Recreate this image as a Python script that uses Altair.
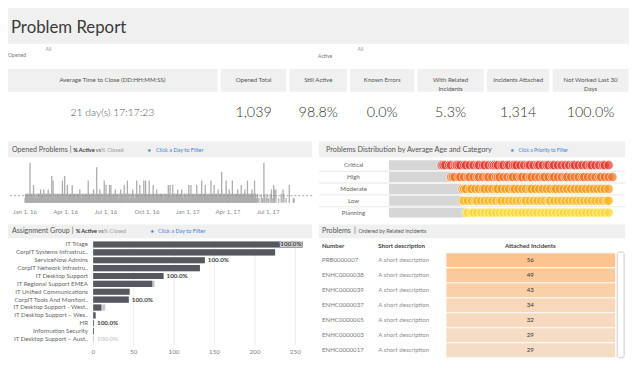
import altair as alt
import pandas as pd

# ------------------------------------------------------------------ data
TITLE = "Problem Report"
KPI_LABELS = ["Average Time to Close (DD:HH:MM:SS)", "Opened Total", "Still Active",
              "Known Errors", "With Related\nIncidents", "Incidents Attached",
              "Not Worked Last 30\nDays"]
KPI_VALUES = ["21 day(s) 17:17:23", "1,039", "98.8%", "0.0%", "5.3%", "1,314", "100.0%"]

OPENED_START = "2016-01-01"
OPENED_DAILY = [
    "1221212122", "2912122124", "2121021212", "1221230212", "2131221202",
    "1232122121", "6215221021", "2122121212", "1220512126", "2120242121",
    "2121204212", "1221202122", "2123121021", "2122112212", "1252121022",
    "1212320121", "2812121232", "1202121252", "2140212122", "4124212012",
    "2123121220", "1212232121", "2124121202", "5212102121", "2132121012",
    "2512122142", "1202122512", "2512120215", "2121201242", "1212213021",
    "2121221212", "2102121221", "2142124121", "2141221202", "2123021212",
    "1232121021", "2121202142", "1214212012", "2121214212", "2021212512",
    "1212242120", "2102121252", "1212142121", "2120312122", "2172121202",
    "1252121213", "2121025212", "1212021232", "2121214212", "1202321212",
    "5212120212", "3212125212", "1002001000", "0200100902", "0010200100",
    "0200300104", "0300300000", "1000002000", "3020000100", "0000400000",
    "00010100",
]
DATE_TICKS = ["2016-01-01", "2016-04-01", "2016-07-01", "2016-10-01",
              "2017-01-01", "2017-04-01", "2017-07-01"]
DATE_TICK_LABELS = ["Jan 1, 16", "Apr 1, 16", "Jul 1, 16", "Oct 1, 16",
                    "Jan 1, 17", "Apr 1, 17", "Jul 1, 17"]

PRIORITIES = ["Critical", "High", "Moderate", "Low", "Planning"]
PRIORITY_COLORS = ["#e2392c", "#ef6d1e", "#f59715", "#f7b51a", "#fad52c"]
PRIORITY_MIN_AGE = [28, 33, 39, 39, 41]
AGES_CRITICAL = [28, 29, 30, 32, 33, 35, 36, 36, 37, 38, 40, 41, 43, 45, 47, 48, 50, 51,
                 53, 55, 56, 57, 58, 60, 61, 63, 64, 66, 67, 68, 70, 72, 74, 75, 77, 79,
                 80, 82, 84, 85, 87, 88, 90, 92, 94, 96, 98, 99, 101, 103, 105, 107, 108,
                 110, 112, 114, 115, 117]
AGES_HIGH = [33, 34, 35, 37, 38, 40, 42, 43, 45, 47, 48, 50, 52, 53, 55, 57, 58, 59, 61,
             63, 65, 66, 68, 70, 71, 73, 75, 76, 78, 80, 82, 83, 85, 87, 88, 90, 92, 94,
             95, 97, 99, 101, 103, 104, 106, 108, 110, 112, 113, 115, 117, 119]
AGES_MODERATE = [39, 40, 41, 43, 44, 46, 48, 50, 51, 53, 55, 57, 58, 60, 62, 64, 66, 67,
                 69, 71, 73, 75, 76, 78, 80, 82, 84, 86, 88, 89, 91, 93, 95, 97, 99, 101,
                 103, 105, 107, 109, 111, 113, 115, 117]
AGES_LOW = [39, 40, 42, 44, 46, 47, 49, 51, 53, 55, 57, 59, 60, 62, 64, 66, 68, 70, 72,
            73, 75, 77, 79, 81, 83, 85, 86, 88, 90, 92, 94, 96, 98, 100, 102, 104, 106,
            108, 110, 112, 114, 116, 117]
AGES_PLANNING = [41, 42, 44, 45, 47, 49, 51, 53, 55, 57, 59, 61, 63, 65, 67, 69, 71, 73,
                 75, 77, 79, 81, 83, 85, 87, 89, 91, 93, 95, 97, 99, 101, 103, 105, 107,
                 109, 111, 113, 115, 117]

GROUPS = ["IT Triage", "CorpIT Systems Infrastruc..", "ServiceNow Admins",
          "CorpIT Network Infrastru..", "IT Desktop Support", "IT Regional Support EMEA",
          "IT Unified Communications", "CorpIT Tools And Monitori..",
          "IT Desktop Support - West..", "IT Desktop Support \u2013 Wes..", "HR",
          "Information Security", "IT Desktop Support \u2013 Aust.."]
GROUP_ACTIVE = [259, 225, 138, 132, 87, 73, 45, 44, 10, 3, 1, 1, 0]
GROUP_TOTAL = [259, 225, 138, 132, 87, 76, 45, 44, 15, 3, 1, 1, 1]
GROUP_PCT_LABEL = ["100.0%", "", "100.0%", "", "100.0%", "", "", "100.0%", "", "",
                   "100.0%", "", "100.0%"]
GROUP_TICKS = [0, 50, 100, 150, 200, 250]

PROBLEM_NUMBERS = ["PRB0000007", "ENHC0000038", "ENHC0000039", "ENHC0000037",
                   "ENHC0000005", "ENHC0000003", "ENHC0000017"]
PROBLEM_DESC = ["A short description"] * 7
PROBLEM_INCIDENTS = [56, 49, 43, 34, 32, 29, 29]

# ------------------------------------------------------------------ layout helpers
OFF = 8                      # page margin: reference pixel -> chart pixel
W, H = 632, 352
FONT = "Lato"
BLUE = "#3f7fd8"
HDR = "#f0f0f0"
LIGHT = 300
ONE = pd.DataFrame({"k": [0]})


def P(v):
    return v - OFF


def txt(s, x, y, size=7.0, color="#555555", align="left", weight="normal",
        baseline="middle"):
    return alt.Chart(ONE).mark_text(
        text=s, align=align, baseline=baseline, fontSize=size, color=color,
        fontWeight=weight, font=FONT
    ).encode(x=alt.value(P(x)), y=alt.value(P(y)))


def box(x0, y0, x1, y1, fill, **kw):
    return alt.Chart(ONE).mark_rect(fill=fill, **kw).encode(
        x=alt.value(P(x0)), x2=alt.value(P(x1)),
        y=alt.value(P(y0)), y2=alt.value(P(y1)))


# ------------------------------------------------------------------ decorations
deco = [
    box(3, 3, 637, 42, HDR),
    txt(TITLE, 11, 31, 17, "#3a3a3a", baseline="alphabetic"),
    txt("Opened", 8, 53, 5.2, "#777777"),
    txt("All", 46, 47, 5.2, "#999999"),
    txt("Active", 322, 54, 5.2, "#777777"),
    txt("All", 362, 47, 5.2, "#999999"),
    box(6, 141, 316, 157, HDR), box(323, 141, 633, 157, HDR),
    box(6, 225, 316, 239, HDR), box(323, 225, 633, 239, HDR),
    txt("Opened Problems", 12, 150, 7.2, "#555555"),
    txt("|", 70.5, 150, 7.2, "#555555"),
    txt("% Active", 74, 150, 5.6, "#333333", weight="bold"),
    txt("vs", 97, 150, 5.6, "#555555"),
    txt("% Closed", 102.5, 150, 5.6, "#9a9a9a"),
    txt("\u2605", 149, 150, 5.5, BLUE),
    txt("Click a Day to Filter", 158, 150, 5.6, BLUE),
    txt("Problems Distribution by Average Age and Category", 330, 150, 7.4, "#555555"),
    txt("\u2605", 516, 150, 5.2, BLUE),
    txt("Click a Priority to Filter", 525, 150, 5.0, BLUE),
    txt("Assignment Group", 12, 232, 7.2, "#555555"),
    txt("|", 72.5, 232, 7.2, "#555555"),
    txt("% Active", 76.5, 232, 5.6, "#333333", weight="bold"),
    txt("vs", 99.5, 232, 5.6, "#555555"),
    txt("% Closed", 105, 232, 5.6, "#9a9a9a"),
    txt("\u2605", 152, 232, 5.5, BLUE),
    txt("Click a Day to Filter", 160, 232, 5.6, BLUE),
    txt("Problems", 326, 232, 7.2, "#555555"),
    txt("|", 358.5, 232, 7.2, "#555555"),
    txt("Ordered by Related Incidents", 363, 232, 5.4, "#555555"),
    txt("Number", 326, 247, 6.2, "#444444", weight="bold"),
    txt("Short description", 383, 247, 6.2, "#444444", weight="bold"),
    txt("Attached Incidents", 537, 247, 6.2, "#444444", align="center", weight="bold"),
    box(625, 253, 632, 360, "white", stroke="#c8c8c8", strokeWidth=1, cornerRadius=2),
]

# ------------------------------------------------------------------ KPI tiles
kpi = pd.DataFrame({"label": KPI_LABELS, "value": KPI_VALUES})
kpi["i0"] = range(len(kpi))
kpi["i1"] = kpi["i0"] + 1
kpi["mid"] = kpi["i0"] + 0.5
KPI_EDGES = [5.5, 222, 291.5, 353, 421, 491.5, 558, 638]
kx = alt.Scale(domain=list(range(len(KPI_EDGES))), range=[P(e) for e in KPI_EDGES],
               nice=False, zero=False)
kpi_layer = alt.layer(
    alt.Chart(kpi).mark_rect(fill=HDR, stroke="white", strokeWidth=3).encode(
        x=alt.X("i0:Q", scale=kx, axis=None), x2="i1:Q",
        y=alt.value(P(66)), y2=alt.value(P(92))),
    alt.Chart(kpi).mark_text(fontSize=6.2, color="#555555", font=FONT, lineBreak="\n",
                             lineHeight=9).encode(
        x=alt.X("mid:Q", scale=kx, axis=None), y=alt.value(P(79)), text="label:N"),
    alt.Chart(kpi).transform_filter("datum.i0 == 0").mark_text(
        fontSize=10.5, color="#555555", font=FONT, fontWeight=LIGHT).encode(
        x=alt.X("mid:Q", scale=kx, axis=None), y=alt.value(P(112)), text="value:N"),
    alt.Chart(kpi).transform_filter("datum.i0 > 0").mark_text(
        fontSize=14.5, color="#333333", font=FONT, fontWeight=LIGHT).encode(
        x=alt.X("mid:Q", scale=kx, axis=None), y=alt.value(P(112)), text="value:N"),
)

# ------------------------------------------------------------------ opened problems
counts = [int(c) for c in "".join(OPENED_DAILY)]
op = pd.DataFrame({"day": range(len(counts)), "opened": counts})
start = pd.Timestamp(OPENED_START)
ticks = pd.DataFrame({"day": [(pd.Timestamp(d) - start).days for d in DATE_TICKS],
                      "label": DATE_TICK_LABELS})
ox = alt.Scale(domain=[0, 547], range=[P(20.3), P(276.7)], nice=False, zero=False)
oy = alt.Scale(domain=[0, 9], range=[P(203), P(162.5)], nice=False, zero=False)
opened_layer = alt.layer(
    alt.Chart(op).transform_filter("datum.opened > 0").mark_bar(
        color="#adadad", width=1.3).encode(
        x=alt.X("day:Q", scale=ox, axis=None),
        y=alt.Y("opened:Q", scale=oy, axis=None)),
    alt.Chart(op).mark_rule(color="#8a8a8a", strokeDash=[2, 2], strokeWidth=0.8).encode(
        y=alt.Y("mean(opened):Q", scale=oy, axis=None),
        x=alt.value(P(6)), x2=alt.value(P(316))),
    alt.Chart(ticks).mark_text(fontSize=6.2, color="#8a8a8a", font=FONT).encode(
        x=alt.X("day:Q", scale=ox, axis=None), y=alt.value(P(212)), text="label:N"),
)

# ------------------------------------------------------------------ distribution
rows = []
for p, ages in zip(PRIORITIES, [AGES_CRITICAL, AGES_HIGH, AGES_MODERATE, AGES_LOW,
                                AGES_PLANNING]):
    for a in ages:
        rows.append({"priority": p, "age": a})
pts = pd.DataFrame(rows)
prio = pd.DataFrame({"priority": PRIORITIES, "min_age": PRIORITY_MIN_AGE})
dxs = alt.Scale(domain=[0, 120], range=[P(394), P(622)], nice=False, zero=False)
dys = alt.Scale(type="band", domain=PRIORITIES, range=[P(159), P(219)],
                paddingInner=0.16, paddingOuter=0.08)
dist_layer = alt.layer(
    alt.Chart(prio).transform_filter("datum.priority != 'Planning'").mark_rule(
        color="#e2e2e2", strokeWidth=0.8, yOffset=1).encode(
        y=alt.Y("priority:N", scale=dys, axis=None, bandPosition=1),
        x=alt.value(P(323)), x2=alt.value(P(633))),
    alt.Chart(prio).mark_bar(color="#d6d6d6").encode(
        x=alt.X("min_age:Q", scale=dxs, axis=None),
        y=alt.Y("priority:N", scale=dys, axis=None)),
    alt.Chart(pts).mark_circle(size=88, fillOpacity=0.7, stroke="white",
                               strokeWidth=0.7, strokeOpacity=0.85).encode(
        x=alt.X("age:Q", scale=dxs, axis=None),
        y=alt.Y("priority:N", scale=dys, axis=None),
        color=alt.Color("priority:N", scale=alt.Scale(domain=PRIORITIES,
                                                      range=PRIORITY_COLORS),
                        legend=None)),
    alt.Chart(prio).mark_text(fontSize=6.3, color="#666666", font=FONT).encode(
        y=alt.Y("priority:N", scale=dys, axis=None), x=alt.value(P(358)),
        text="priority:N"),
)

# ------------------------------------------------------------------ assignment group
ag = pd.DataFrame({"group": GROUPS, "active": GROUP_ACTIVE, "total": GROUP_TOTAL,
                   "pct": GROUP_PCT_LABEL})
axs = alt.Scale(domain=[0, 250], range=[P(94.3), P(299)], nice=False, zero=False)
ays = alt.Scale(type="band", domain=GROUPS, range=[P(241.3), P(345)],
                paddingInner=0.22, paddingOuter=0.11)
gticks = pd.DataFrame({"tick": GROUP_TICKS})
pct_color = alt.condition("datum.active == 0", alt.value("#cfcfcf"), alt.value("#444444"))
inside = "datum.pct != '' && datum.total > 240"
assign_layer = alt.layer(
    alt.Chart(gticks).mark_rule(color="#e8e8e8", strokeWidth=0.8).encode(
        x=alt.X("tick:Q", scale=axs, axis=None),
        y=alt.value(P(241)), y2=alt.value(P(347))),
    alt.Chart(ag).mark_bar(color="#c9c9c9").encode(
        x=alt.X("total:Q", scale=axs, axis=None),
        y=alt.Y("group:N", scale=ays, axis=None)),
    alt.Chart(ag).mark_bar(color="#55595f").encode(
        x=alt.X("active:Q", scale=axs, axis=None),
        y=alt.Y("group:N", scale=ays, axis=None)),
    alt.Chart(ag).mark_text(align="right", fontSize=6.2, color="#666666",
                            font=FONT).encode(
        x=alt.value(P(89)), y=alt.Y("group:N", scale=ays, axis=None), text="group:N"),
    alt.Chart(ag).transform_filter("datum.pct != '' && datum.total <= 240").mark_text(
        align="left", dx=3, fontSize=6.4, fontWeight="bold", font=FONT).encode(
        x=alt.X("total:Q", scale=axs, axis=None),
        y=alt.Y("group:N", scale=ays, axis=None), text="pct:N", color=pct_color),
    alt.Chart(ag).transform_filter(inside).mark_text(
        align="right", dx=-1, fontSize=6.4, fontWeight="bold", font=FONT,
        color="#d9d9d9", stroke="#d9d9d9", strokeWidth=2).encode(
        x=alt.X("total:Q", scale=axs, axis=None),
        y=alt.Y("group:N", scale=ays, axis=None), text="pct:N"),
    alt.Chart(ag).transform_filter(inside).mark_text(
        align="right", dx=-1, fontSize=6.4, fontWeight="bold", font=FONT,
        color="#3a3a3a").encode(
        x=alt.X("total:Q", scale=axs, axis=None),
        y=alt.Y("group:N", scale=ays, axis=None), text="pct:N"),
    alt.Chart(gticks).mark_text(fontSize=6.4, color="#808080", font=FONT).encode(
        x=alt.X("tick:Q", scale=axs, axis=None), y=alt.value(P(354)), text="tick:Q"),
)

# ------------------------------------------------------------------ problems table
tb = pd.DataFrame({"number": PROBLEM_NUMBERS, "desc": PROBLEM_DESC,
                   "inc": PROBLEM_INCIDENTS})
tys = alt.Scale(type="band", domain=PROBLEM_NUMBERS, range=[P(253.5), P(360)],
                paddingInner=0.07, paddingOuter=0.035)
table_layer = alt.layer(
    alt.Chart(tb).mark_rect().encode(
        y=alt.Y("number:N", scale=tys, axis=None),
        x=alt.value(P(452)), x2=alt.value(P(623)),
        color=alt.Color("inc:Q", scale=alt.Scale(domain=[29, 56],
                                                 range=["#f5dcc5", "#fdc48e"]),
                        legend=None)),
    alt.Chart(tb).mark_text(align="left", fontSize=6.2, color="#7a7a7a",
                            font=FONT).encode(
        y=alt.Y("number:N", scale=tys, axis=None), x=alt.value(P(326)),
        text="number:N"),
    alt.Chart(tb).mark_text(align="left", fontSize=6.2, color="#8e8e8e",
                            font=FONT).encode(
        y=alt.Y("number:N", scale=tys, axis=None), x=alt.value(P(383)),
        text="desc:N"),
    alt.Chart(tb).mark_text(align="center", fontSize=6.2, color="#333333",
                            font=FONT).encode(
        y=alt.Y("number:N", scale=tys, axis=None), x=alt.value(P(537)),
        text="inc:Q"),
)

chart = alt.layer(
    *deco, kpi_layer, opened_layer, dist_layer, assign_layer, table_layer
).resolve_scale(
    x="independent", y="independent", color="independent"
).properties(
    width=W, height=H, padding=0, background="white",
    autosize=alt.AutoSizeParams(type="none"),
).configure_view(stroke=None)

chart.save("out.html", embed_options={"renderer": "svg", "actions": False})
